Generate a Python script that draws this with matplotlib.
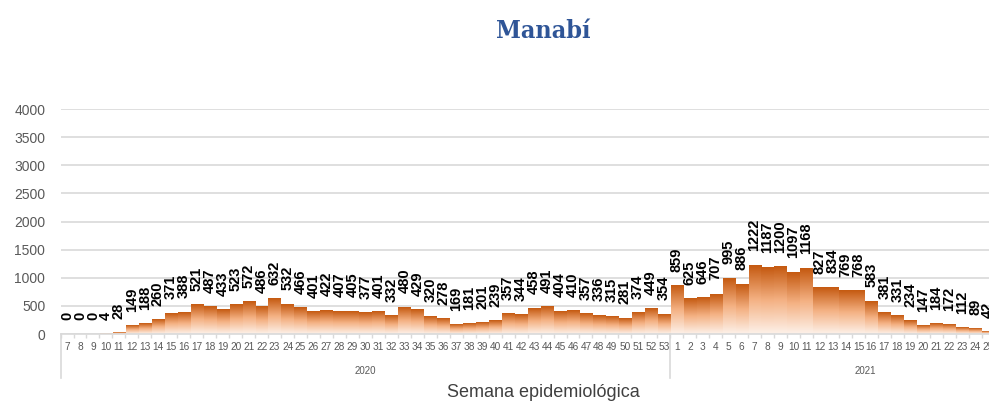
"""
Casos por semana epidemiologica - Manabi
"""

import numpy as np
import matplotlib.pyplot as plt
from matplotlib.colors import LinearSegmentedColormap
from matplotlib.transforms import blended_transform_factory

# semanas 2020 (7-53) y 2021 (1-25)
weeks_2020 = list(range(7, 54))
weeks_2021 = list(range(1, 26))

cases_2020 = [0, 0, 0, 4, 28, 149, 188, 260, 371, 388, 521, 487, 433, 523, 572, 486,
              632, 532, 466, 401, 422, 407, 405, 377, 401, 332, 480, 429, 320, 278,
              169, 181, 201, 239, 357, 344, 458, 491, 404, 410, 357, 336, 315, 281,
              374, 449, 354]
cases_2021 = [859, 625, 646, 707, 995, 886, 1222, 1187, 1200, 1097, 1168, 827, 834,
              769, 768, 583, 381, 331, 234, 147, 184, 172, 112, 89, 42]

years = ["2020", "2021"]
yticks = [0, 500, 1000, 1500, 2000, 2500, 3000, 3500, 4000]


def main():
    labels = [str(w) for w in weeks_2020 + weeks_2021]
    values = cases_2020 + cases_2021
    x = np.arange(len(values))

    fig = plt.figure(figsize=(9.89, 4.03), dpi=100)
    ax = fig.add_axes([0.0612, 0.171, 0.9445, 0.5583])

    # gradiente naranja: oscuro arriba, claro abajo
    cmap = LinearSegmentedColormap.from_list("naranja", ["#fdf1e9", "#f4b183", "#c55a11"])
    grad = np.linspace(0, 1, 100).reshape(-1, 1)
    width = 0.94
    for xi, v in zip(x, values):
        if v > 0:
            ax.imshow(grad, cmap=cmap, origin="lower", aspect="auto",
                      extent=[xi - width / 2, xi + width / 2, 0, v], zorder=2)
        ax.annotate(str(v), (xi, v), xytext=(0, 10), textcoords="offset points",
                    rotation=90, ha="center", va="bottom", fontsize=10.5,
                    fontweight="bold", family="Liberation Sans", color="black",
                    annotation_clip=False)

    ax.set_xlim(-0.5, len(values) - 0.5)
    ax.set_ylim(0, 4000)

    # ejes
    for s in ["top", "right", "left"]:
        ax.spines[s].set_visible(False)
    ax.spines["bottom"].set_color("#d9d9d9")
    ax.spines["bottom"].set_linewidth(1.2)
    ax.set_yticks(yticks)
    ax.set_yticklabels([str(t) for t in yticks], fontsize=10, family="Liberation Sans",
                       color="#595959")
    ax.tick_params(axis="y", length=0, pad=11)
    ax.grid(axis="y", color="#d9d9d9", linewidth=1.2, zorder=0)
    ax.set_axisbelow(True)

    ax.set_xticks(x)
    ax.set_xticklabels(labels, fontsize=7.3, family="Liberation Sans", color="#595959")
    ax.tick_params(axis="x", length=0, pad=6)
    ax.set_xticks(np.arange(-0.5, len(values), 1), minor=True)
    ax.tick_params(axis="x", which="minor", length=3, color="#d9d9d9", width=1)

    # etiquetas de anio y separadores
    trans = blended_transform_factory(ax.transData, ax.transAxes)
    n20 = len(cases_2020)
    for xs in [-0.5, n20 - 0.5]:
        ax.plot([xs, xs], [0, -0.195], color="#d9d9d9", lw=1.2, transform=trans,
                clip_on=False)
    ax.text((n20 - 1) / 2, -0.165, years[0], transform=trans, ha="center", va="center",
            fontsize=7, family="Liberation Sans", color="#595959")
    ax.text(n20 + 14.5, -0.165, years[1], transform=trans, ha="center", va="center",
            fontsize=7, family="Liberation Sans", color="#595959")

    fig.text(0.549, 0.027, "Semana epidemiológica", ha="center", va="center",
             fontsize=13, family="Liberation Sans", color="#404040")
    fig.text(0.549, 0.923, "Manabí", ha="center", va="center", fontsize=18,
             fontweight="bold", family="DejaVu Serif", fontstretch="condensed",
             color="#2f5597")

    fig.savefig("out.png", dpi=100)


if __name__ == "__main__":
    main()
